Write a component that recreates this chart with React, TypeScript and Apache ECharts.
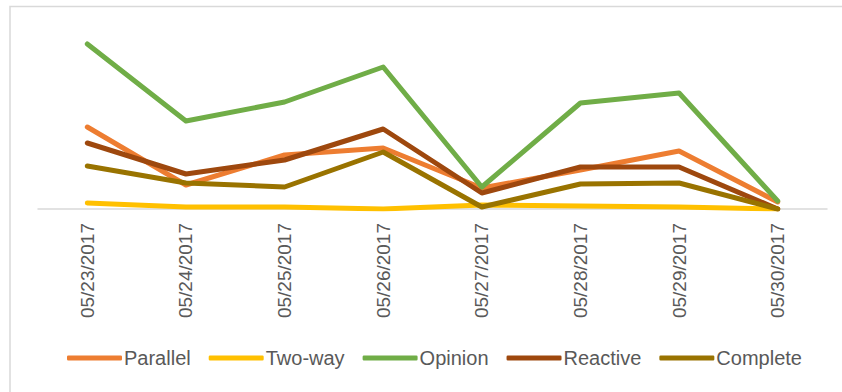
import React, { useEffect, useRef } from "react";
import * as echarts from "echarts";

const categories = [
  "05/23/2017",
  "05/24/2017",
  "05/25/2017",
  "05/26/2017",
  "05/27/2017",
  "05/28/2017",
  "05/29/2017",
  "05/30/2017",
];

const parallel = [82, 24, 54, 61, 21, 39, 58, 7];
const twoWay = [6, 2, 2, 0, 4, 3, 2, 0];
const opinion = [165, 88, 107, 142, 22, 106, 116, 8];
const reactive = [66, 35, 49, 80, 16, 42, 42, 0];
const complete = [43, 26, 22, 57, 2, 25, 26, 0];

const seriesNames = ["Parallel", "Two-way", "Opinion", "Reactive", "Complete"];
const seriesData = [parallel, twoWay, opinion, reactive, complete];
const seriesColors = ["#ED7D31", "#FFC000", "#70AD47", "#9E480E", "#997300"];

const FONT = "'Liberation Sans', Arial, sans-serif";

export default function App() {
  const ref = useRef<HTMLDivElement>(null);

  useEffect(() => {
    if (!ref.current) return;
    const chart = echarts.init(ref.current, undefined, { renderer: "svg" });
    chart.setOption({
      animation: false,
      backgroundColor: "#ffffff",
      graphic: [
        {
          type: "rect",
          shape: { x: 10, y: 6.5, width: 900, height: 500 },
          style: { fill: "none", stroke: "#d9d9d9", lineWidth: 1.5 },
          silent: true,
          z: -10,
        },
      ],
      grid: { left: 38, right: 15, top: 29, bottom: 183, containLabel: false },
      xAxis: {
        type: "category",
        data: categories,
        boundaryGap: true,
        axisLine: { show: true, lineStyle: { color: "#d9d9d9", width: 1.5 } },
        axisTick: { show: false },
        splitLine: { show: false },
        axisLabel: {
          rotate: 90,
          color: "#595959",
          fontSize: 19,
          fontFamily: FONT,
          margin: 14,
          interval: 0,
        },
      },
      yAxis: {
        type: "value",
        min: 0,
        max: 180,
        show: false,
        splitLine: { show: false },
      },
      legend: {
        left: 67,
        top: 348,
        padding: 0,
        icon: "roundRect",
        itemWidth: 55,
        itemHeight: 5,
        itemGap: 18,
        textStyle: { color: "#595959", fontSize: 20, fontFamily: FONT, padding: [0, 0, 0, -3] },
        data: seriesNames,
      },
      series: seriesNames.map((name, i) => ({
        name,
        type: "line",
        data: seriesData[i],
        symbol: "none",
        showSymbol: false,
        color: seriesColors[i],
        lineStyle: { width: 5, color: seriesColors[i], cap: "round", join: "round" },
        z: 2 + i,
      })),
    });
    return () => chart.dispose();
  }, []);

  return (
    <div
      ref={ref}
      style={{ position: "fixed", left: 0, top: 0, width: 842, height: 392, background: "#fff" }}
    />
  );
}
